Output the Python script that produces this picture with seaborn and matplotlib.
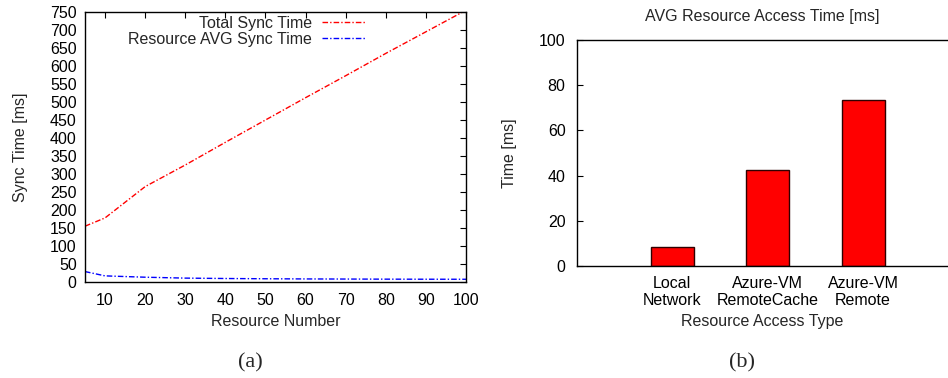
import matplotlib
matplotlib.use("Agg")
import matplotlib.pyplot as plt
import seaborn as sns
import pandas as pd

# ---- data ----
resources = [5, 10, 20, 30, 40, 50, 60, 70, 80, 90, 100]
total_sync = [155, 178, 265, 325, 388, 450, 512, 573, 635, 695, 755]
avg_sync = [29, 17, 13.3, 10.8, 9.7, 9.0, 8.5, 8.2, 7.9, 7.7, 7.6]
access_types = ["Local\nNetwork", "Azure-VM\nRemoteCache", "Azure-VM\nRemote"]
access_times = [8.5, 42.3, 73.6]

sns.set_style("white")
plt.rcParams["font.family"] = ["Liberation Sans", "DejaVu Sans"]
FS = 11.5

fig = plt.figure(figsize=(9.48, 3.78), dpi=100)

# ---- (a) line chart ----
ax1 = fig.add_axes([85 / 948, 1 - 282 / 378, (466 - 85) / 948, (282 - 12) / 378])
dash = (0, (4, 1.5, 1, 1.5))
sns.lineplot(x=resources, y=total_sync, ax=ax1, color="red", linewidth=1.0,
             linestyle=dash, label="Total Sync Time")
sns.lineplot(x=resources, y=avg_sync, ax=ax1, color="blue", linewidth=1.0,
             linestyle=dash, label="Resource AVG Sync Time")
ax1.set_xlim(5, 100)
ax1.set_ylim(0, 750)
ax1.set_xticks(list(range(10, 101, 10)))
ax1.set_yticks(list(range(0, 751, 50)))
ax1.tick_params(direction="in", length=4, width=0.8, top=True, right=True,
                labelsize=FS, colors="black")
ax1.tick_params(axis="y", pad=6)
ax1.tick_params(axis="x", pad=8)
for s in ax1.spines.values():
    s.set_visible(True)
    s.set_color("black")
    s.set_linewidth(1.0)
ax1.set_xlabel("Resource Number", fontsize=FS, labelpad=4)
ax1.set_ylabel("Sync Time [ms]", fontsize=FS, labelpad=16)
leg = ax1.legend(loc="upper right", bbox_to_anchor=(0.755, 1.01), frameon=False,
                 markerfirst=False, fontsize=FS, handlelength=2.75,
                 handletextpad=0.65, labelspacing=0.08, borderaxespad=0.0)

# ---- (b) bar chart ----
ax2 = fig.add_axes([576.7 / 948, 1 - 266 / 378, (948 - 576.7) / 948, (266 - 40) / 378])
df = pd.DataFrame({"type": access_types, "time": access_times})
sns.barplot(data=df, x="type", y="time", ax=ax2, color="red", saturation=1,
            width=0.45, edgecolor="#300000", linewidth=1.0)
ax2.set_xlim(-1, 2.89)
ax2.set_ylim(0, 100)
ax2.set_yticks([0, 20, 40, 60, 80, 100])
ax2.tick_params(axis="y", direction="in", length=4, width=0.8, left=True,
                labelsize=FS, pad=8, colors="black")
ax2.tick_params(axis="x", length=0, labelsize=FS, pad=7, colors="black")
for name, s in ax2.spines.items():
    s.set_color("black")
    s.set_linewidth(1.0)
ax2.spines["right"].set_visible(False)
ax2.set_xlabel("Resource Access Type", fontsize=FS, labelpad=4)
ax2.set_ylabel("Time [ms]", fontsize=FS, labelpad=16)
ax2.set_title("AVG Resource Access Time [ms]", fontsize=FS, pad=14)

# ---- captions ----
fig.text(250 / 948, 1 - 363 / 378, "(a)", ha="center", va="center",
         fontsize=16, family=["Liberation Serif", "DejaVu Serif"])
fig.text(742 / 948, 1 - 363 / 378, "(b)", ha="center", va="center",
         fontsize=16, family=["Liberation Serif", "DejaVu Serif"])

fig.savefig("out.png", dpi=100)
